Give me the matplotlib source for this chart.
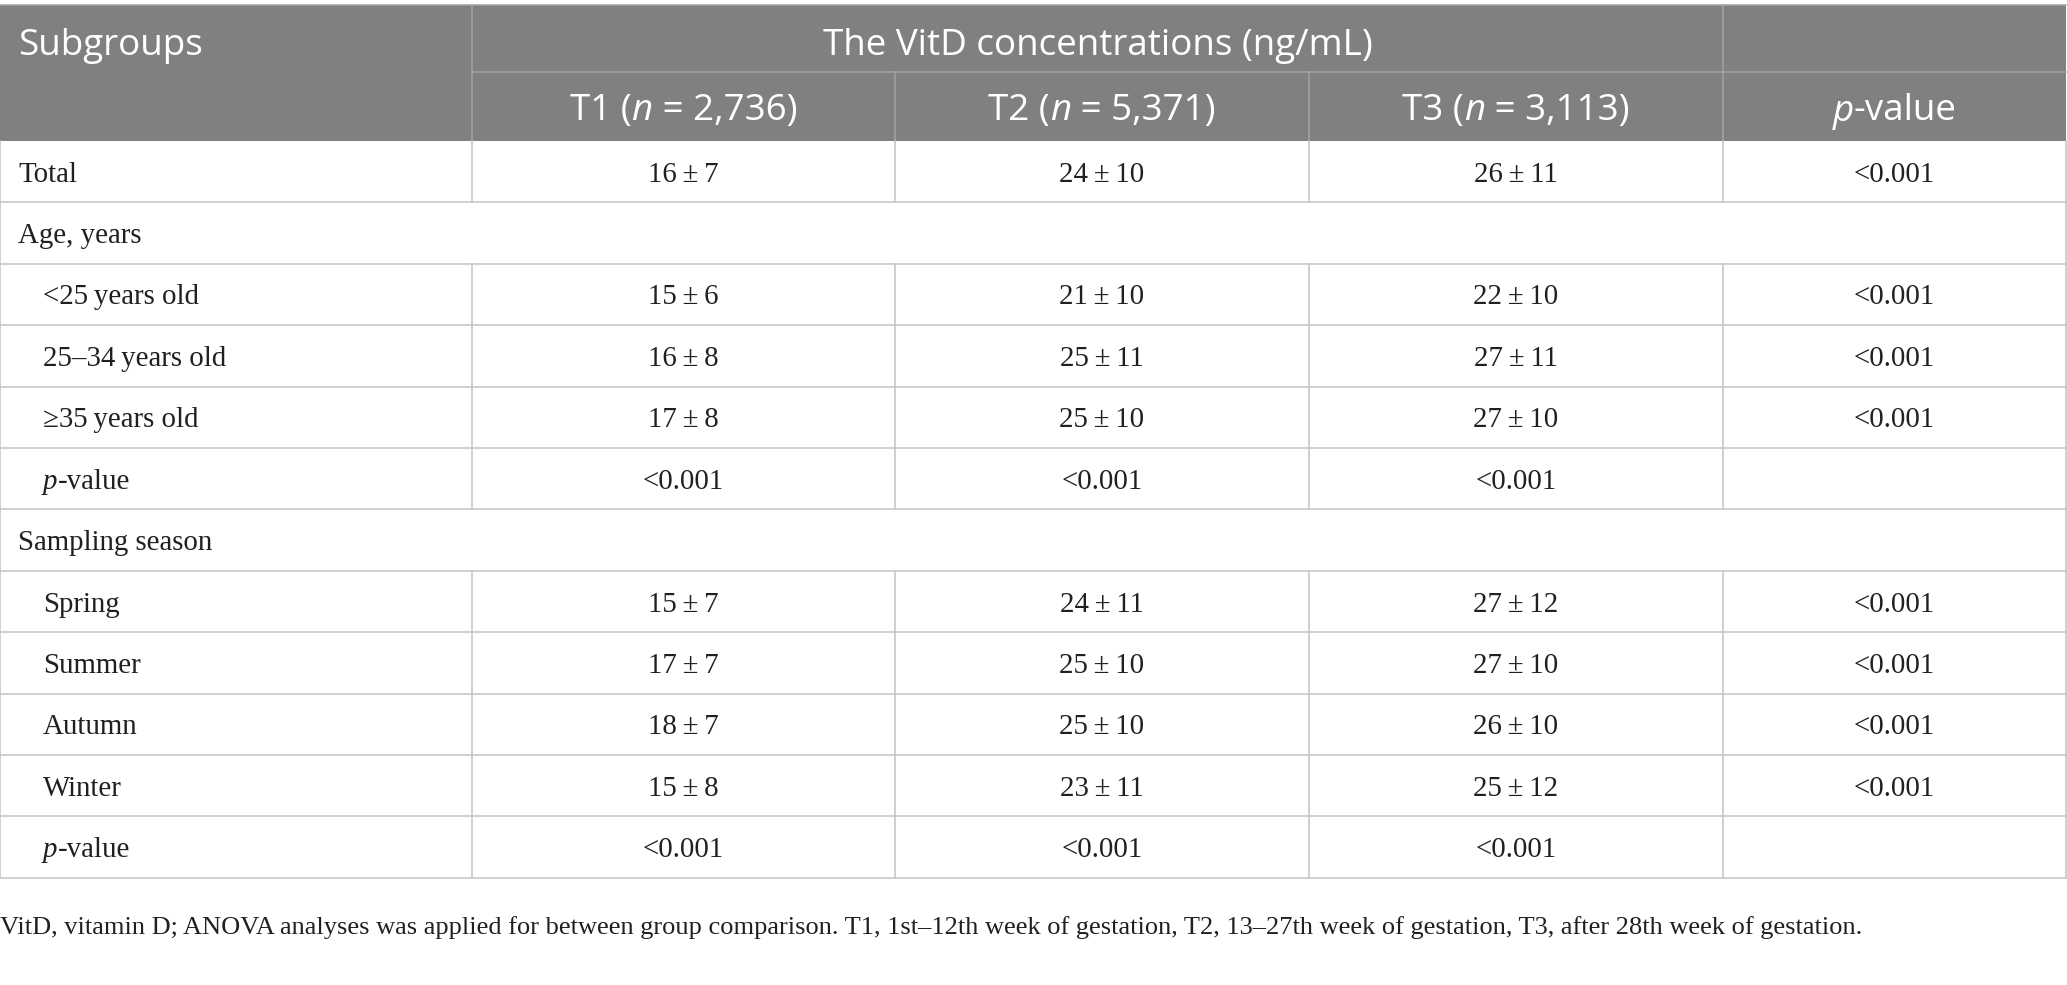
import matplotlib
matplotlib.use("Agg")
import matplotlib.pyplot as plt

W, H = 2067, 985

# table content
subgroups = ["Total", "Age, years", "<25\u2009years old", "25\u201334\u2009years old",
             "\u226535\u2009years old", "p-value", "Sampling season",
             "Spring", "Summer", "Autumn", "Winter", "p-value"]
indented = [False, False, True, True, True, True, False, True, True, True, True, True]
section = [False, True, False, False, False, False, True, False, False, False, False, False]

t1 = ["16\u2009±\u20097", "", "15\u2009±\u20096", "16\u2009±\u20098", "17\u2009±\u20098", "<0.001", "",
      "15\u2009±\u20097", "17\u2009±\u20097", "18\u2009±\u20097", "15\u2009±\u20098", "<0.001"]
t2 = ["24\u2009±\u200910", "", "21\u2009±\u200910", "25\u2009±\u200911", "25\u2009±\u200910", "<0.001", "",
      "24\u2009±\u200911", "25\u2009±\u200910", "25\u2009±\u200910", "23\u2009±\u200911", "<0.001"]
t3 = ["26\u2009±\u200911", "", "22\u2009±\u200910", "27\u2009±\u200911", "27\u2009±\u200910", "<0.001", "",
      "27\u2009±\u200912", "27\u2009±\u200910", "26\u2009±\u200910", "25\u2009±\u200912", "<0.001"]
pvals = ["<0.001", "", "<0.001", "<0.001", "<0.001", "", "",
         "<0.001", "<0.001", "<0.001", "<0.001", ""]

group_title = "The VitD concentrations (ng/mL)"
col_heads = [("T1 (", "n", " = 2,736)"), ("T2 (", "n", " = 5,371)"), ("T3 (", "n", " = 3,113)")]
footnote = ("VitD, vitamin D; ANOVA analyses was applied for between group comparison. "
            "T1, 1st\u201312th week of gestation, T2, 13\u201327th week of gestation, "
            "T3, after 28th week of gestation.")

# geometry (pixels)
col_x = [0, 472, 895, 1309, 1723, 2066]
top, mid, head_bot = 5, 72, 141
row_h = 61.4
header_bg = "#808080"
head_line = "#a3a3a3"
grid = "#c4c4c4"
ink = "#231f20"

head_font = dict(family="Open Sans", size=26.5, color="white")
body_font = dict(family="Liberation Serif", size=20.8, color=ink)

fig = plt.figure(figsize=(W / 100, H / 100), dpi=100)
ax = fig.add_axes([0, 0, 1, 1])
ax.set_xlim(0, W)
ax.set_ylim(H, 0)
ax.axis("off")
renderer = fig.canvas.get_renderer()


def text_width(s, **style):
    # measure with guard chars so leading/trailing spaces count
    a = ax.text(0, 0, "|" + s + "|", **style)
    b = ax.text(0, 0, "||", **style)
    w = a.get_window_extent(renderer).width - b.get_window_extent(renderer).width
    a.remove()
    b.remove()
    return w


def runs(x, y, parts, ha="center"):
    widths = [text_width(s, **st) for s, st in parts]
    start = x - sum(widths) / 2 if ha == "center" else x
    for (s, st), w in zip(parts, widths):
        ax.text(start, y, s, va="center", ha="left", **st)
        start += w


# header block
ax.add_patch(plt.Rectangle((0, top), W - 1, head_bot - top, color=header_bg, lw=0))
ax.plot([col_x[1], col_x[-1]], [mid, mid], color=head_line, lw=1.1)
ax.plot([col_x[1], col_x[1]], [top, head_bot], color=head_line, lw=1.1)
ax.plot([col_x[4], col_x[4]], [top, head_bot], color=head_line, lw=1.1)
for cx in col_x[2:4]:
    ax.plot([cx, cx], [mid, head_bot], color=head_line, lw=1.1)
ax.plot([0, W - 1], [top, top], color=head_line, lw=1.1)

hy1 = (top + mid) / 2 + 7
ax.text(18, hy1, "Subgroups", va="center", ha="left", **head_font)
ax.text((col_x[1] + col_x[4]) / 2, hy1, group_title, va="center", ha="center", **head_font)
head_it = dict(head_font, style="italic")
hy = (mid + head_bot) / 2 + 5
for i, (a, n, b) in enumerate(col_heads):
    cx = (col_x[i + 1] + col_x[i + 2]) / 2
    runs(cx, hy, [(a, head_font), (n, head_it), (b, head_font)])
runs((col_x[4] + col_x[5]) / 2, hy, [("p", head_it), ("-value", head_font)])

# body rows
body_it = dict(body_font, style="italic")
for r, name in enumerate(subgroups):
    y0 = head_bot + r * row_h
    y1 = y0 + row_h
    yc = (y0 + y1) / 2 + 3
    ax.plot([0, W - 1], [y1, y1], color=grid, lw=1.1)
    ax.plot([0, 0], [y0, y1], color=grid, lw=1.1)
    ax.plot([W - 1, W - 1], [y0, y1], color=grid, lw=1.1)
    if not section[r]:
        for cx in col_x[1:5]:
            ax.plot([cx, cx], [y0, y1], color=grid, lw=1.1)
    xl = 43 if indented[r] else 18
    if name == "p-value":
        runs(xl, yc, [("p", body_it), ("-value", body_font)], ha="left")
    else:
        ax.text(xl, yc, name, va="center", ha="left", **body_font)
    for c, vals in enumerate([t1, t2, t3, pvals]):
        if vals[r]:
            cx = (col_x[c + 1] + col_x[c + 2]) / 2
            ax.text(cx, yc, vals[r], va="center", ha="center", **body_font)

ax.text(0, 928, footnote, va="center", ha="left", family="Liberation Serif", size=19, color=ink)

fig.savefig("out.png", dpi=100)
